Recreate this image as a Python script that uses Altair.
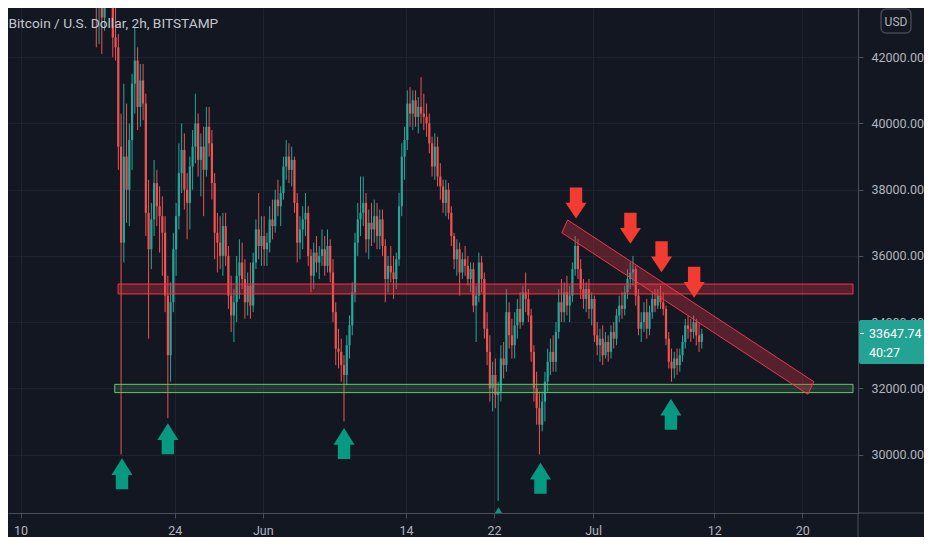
import altair as alt
import pandas as pd

# ---------------- data ----------------
# 6-hour candles, first candle opens 2021-05-16 18:00, one row per day below
CANDLE_START = "2021-05-16T18:00:00Z"
first_open = 44800
closes = [43900,
    44600, 43200, 44800, 45100,  44200, 42600, 42300, 39300,  36400, 39000, 38000, 39500,
    41200, 41900, 40500, 41300,  40600, 37300, 36200, 37100,  38200, 37500, 37200, 36700,
    34800, 33000, 34600, 36200,  37200, 38500, 39200, 38000,  37600, 38700, 39300, 40000,
    38900, 39300, 38600, 39900,  39400, 38200, 36700, 36400,  36000, 36900, 36000, 34800,
    34200, 34600, 35400, 35800,  35300, 34600, 35100, 34500,  35800, 36800, 36300, 36600,
    36200, 36400, 37100, 36900,  37700, 37500, 37900, 38700,  39000, 38600, 38900, 37600,
    36400, 36800, 37100, 37300,  36000, 35400, 36100, 35800,  36000, 36200, 35700, 36300,
    35500, 34300, 33200, 33100,  32700, 32400, 33300, 33900,  34900, 36400, 37100, 37300,
    37600, 36500, 37000, 36800,  37200, 36600, 37100, 36300,  35300, 35700, 35500, 35300,
    35900, 37500, 39000, 39500,  40600, 40300, 40700, 40200,  40500, 40300, 40200, 40000,
    39400, 38700, 39300, 38400,  38100, 37600, 38000, 37300,  36600, 35900, 36200, 35500,
    35900, 35700, 35300, 35600,  34500, 34800, 35800, 35300,  33800, 33100, 32000, 32400,
    31800, 31900, 32900, 32700,  34300, 33600, 33300, 33900,  34400, 34000, 34900, 34700,
    34200, 33100, 32000, 31400,  30900, 31600, 32200, 32800,  33100, 32800, 33700, 34600,
    34300, 34900, 34500, 34800,  35600, 36300, 35600, 35000,  34700, 35000, 34400, 34700,
    33600, 33300, 33500, 33000,  33400, 33100, 33700, 33500,  34200, 34500, 34400, 34900,
    35300, 35500, 35600, 34800,  33800, 34000, 34300, 33800,  34300, 34700, 34500, 34800,
    34600, 34400, 33500, 32800,  32600, 32900, 32700, 33000,  33400, 33900, 33800, 33700,
    34000, 33600, 33400, 33647.74]
highs = [45600,
    45400, 45300, 45000, 45800,  45600, 44800, 43500, 42700,  40300, 41200, 40600, 40000,
    41500, 42900, 42300, 41800,  41800, 40900, 38300, 37600,  38900, 38600, 38100, 37800,
    37200, 35400, 35200, 36700,  37600, 39400, 40000, 39700,  38500, 39000, 39800, 40900,
    40300, 39700, 39900, 40500,  40500, 39800, 38500, 37300,  37200, 37300, 37300, 36300,
    35400, 35000, 36000, 36500,  36400, 35900, 35500, 35800,  36100, 37100, 37900, 37200,
    37200, 36700, 37500, 37700,  38000, 38300, 38100, 39000,  39500, 39400, 39300, 39000,
    37900, 37200, 37500, 37900,  37500, 36200, 36400, 36600,  36300, 36800, 36600, 36800,
    36500, 35900, 34600, 33800,  33500, 33000, 33600, 34200,  35200, 36700, 37600, 38400,
    38400, 37900, 37400, 37600,  37700, 37600, 37400, 37400,  36500, 36000, 36300, 36000,
    36100, 37900, 39400, 39900,  41000, 41100, 41000, 41000,  40800, 41400, 40900, 40600,
    40300, 39600, 39700, 39600,  38800, 38300, 38300, 38200,  37500, 36700, 36500, 36400,
    36100, 36300, 36000, 35800,  35800, 35100, 36100, 36000,  35500, 34300, 33600, 32800,
    32900, 32200, 33300, 33400,  35000, 34600, 34100, 34300,  34700, 34900, 35100, 35500,
    35000, 34400, 33300, 32500,  31900, 31900, 32500, 33200,  33500, 33600, 34000, 35000,
    35300, 35200, 35400, 35100,  35800, 36600, 36500, 35900,  35300, 35200, 35300, 34900,
    34800, 34000, 33800, 33900,  33700, 33600, 33900, 34000,  34400, 34800, 34900, 35100,
    35600, 35800, 36000, 35700,  35000, 34300, 34600, 34700,  34500, 34900, 35000, 35000,
    35100, 34900, 34500, 33700,  33200, 33100, 33200, 33200,  33600, 34100, 34200, 34100,
    34200, 34100, 34000, 33800]
lows = [42300,
    42400, 42100, 42800, 43900,  43600, 42000, 41900, 38600,  30000, 35800, 37000, 36900,
    38600, 40300, 39800, 39900,  40100, 36600, 33500, 35600,  36600, 36900, 36100, 35400,
    34300, 31100, 32200, 34300,  35400, 36800, 37900, 37400,  36500, 36800, 38000, 38800,
    38400, 37800, 37200, 38400,  39000, 37700, 35900, 35500,  35600, 35400, 35700, 34400,
    33700, 33400, 34000, 34700,  35000, 34100, 34200, 34100,  34300, 35600, 35900, 35700,
    35700, 35700, 36100, 36500,  36700, 37200, 36900, 37700,  38300, 38200, 38100, 37300,
    35800, 35900, 36200, 36600,  35700, 34900, 35000, 35500,  35300, 35700, 35400, 35500,
    35200, 34000, 32700, 32600,  32200, 31000, 32100, 32900,  33600, 34600, 36000, 36600,
    36900, 36100, 35900, 36300,  36400, 36200, 36200, 36000,  34600, 34900, 35200, 34700,
    35000, 35700, 37200, 38300,  39200, 39900, 39800, 39900,  39700, 40000, 39800, 39600,
    39100, 38400, 38300, 38100,  37700, 37300, 37200, 37100,  36300, 35600, 35400, 34800,
    35300, 35400, 35100, 34900,  34300, 33400, 34600, 34900,  33500, 32700, 31600, 31300,
    31400, 28600, 31600, 32300,  32500, 33200, 32900, 32900,  33500, 33800, 33900, 34300,
    34000, 32800, 31600, 30900,  30000, 30700, 31000, 31900,  32400, 32500, 32500, 33500,
    34000, 34000, 34200, 34000,  34600, 35400, 35300, 34700,  34400, 34300, 34100, 33900,
    33400, 33000, 32800, 32700,  32900, 32800, 32900, 33200,  33300, 34000, 34100, 34200,
    34700, 35000, 35100, 34500,  33600, 33400, 33700, 33500,  33600, 34100, 34300, 34400,
    34400, 34200, 33300, 32600,  32200, 32300, 32400, 32500,  32800, 33200, 33500, 33400,
    33500, 33300, 33100, 33200]

# horizontal zones drawn on the chart
zone_start = ["2021-05-18T20:25:00Z", "2021-05-18T13:15:00Z"]   # resistance, support
zone_end = ["2021-07-24T14:38:00Z", "2021-07-24T14:38:00Z"]
zone_top = [35150, 32120]
zone_bottom = [34850, 31870]

# descending channel (parallelogram), as top / bottom edge along time
channel_t = ["2021-06-28T03:50:00Z", "2021-06-28T16:34:00Z",
             "2021-07-20T12:14:00Z", "2021-07-21T01:12:00Z"]
channel_top = [36701, 37085, 32317, 32199]
channel_bottom = [36701, 36585, 31819, 32199]

# arrows
up_t = ["2021-05-19T05:02:00Z", "2021-05-23T09:00:00Z", "2021-06-08T09:07:00Z",
        "2021-06-22T09:50:00Z", "2021-06-26T05:17:00Z", "2021-07-08T01:41:00Z"]
up_p = [29417, 30477, 30332, 27937, 29281, 31218]
down_t = ["2021-06-29T10:48:00Z", "2021-07-04T09:21:00Z",
          "2021-07-07T05:17:00Z", "2021-07-10T04:19:00Z"]
down_p = [37598, 36834, 35976, 35202]

# axes
x_ticks = ["2021-05-10", "2021-05-24", "2021-06-01", "2021-06-14",
           "2021-06-22", "2021-07-01", "2021-07-12", "2021-07-20"]
y_ticks = [30000, 32000, 34000, 36000, 38000, 40000, 42000]
x_domain = ["2021-05-09T07:25:00Z", "2021-07-24T14:38:00Z"]
y_domain = [28233, 43489]
last_price = "33647.74"
countdown = "40:27"
title_text = "Bitcoin / U.S. Dollar, 2h, BITSTAMP"

# ---------------- build tables ----------------
def ms(s):
    ts = pd.Timestamp(s)
    if ts.tzinfo is None:
        ts = ts.tz_localize("UTC")
    return int(ts.value // 10**6)

n = len(closes)
opens = [first_open] + closes[:-1]
t0 = pd.Timestamp(CANDLE_START)
times = [(t0 + pd.Timedelta(hours=6 * i + 3)).strftime("%Y-%m-%dT%H:%M:%SZ") for i in range(n)]
candles = pd.DataFrame({"t": times, "open": opens, "high": highs, "low": lows, "close": closes})
candles["dir"] = ["up" if c >= o else "down" for o, c in zip(opens, closes)]

res_df = pd.DataFrame({"x0": zone_start[:1], "x1": zone_end[:1], "top": zone_top[:1], "bottom": zone_bottom[:1]})
sup_df = pd.DataFrame({"x0": zone_start[1:], "x1": zone_end[1:], "top": zone_top[1:], "bottom": zone_bottom[1:]})
ch_df = pd.DataFrame({"t": channel_t, "top": channel_top, "bottom": channel_bottom})
up_df = pd.DataFrame({"t": up_t, "p": up_p})
down_df = pd.DataFrame({"t": down_t, "p": down_p})
one = pd.DataFrame({"k": [0]})

# ---------------- styling ----------------
BG = "#131722"
GRID = "#1f2331"
AXIS = "#4a4e59"
LABEL = "#b2b5be"
UP = "#26a69a"
DOWN = "#ef5350"
RED = "#f23645"
FONT = "Roboto, Liberation Sans, sans-serif"

xscale = alt.Scale(type="utc", domain=[ms(d) for d in x_domain])
yscale = alt.Scale(domain=y_domain, zero=False, nice=False)

xaxis = alt.Axis(values=[ms(d) for d in x_ticks], title=None,
                 labelExpr="utcFormat(datum.value, '%d') == '01' ? utcFormat(datum.value, '%b') : utcFormat(datum.value, '%d')",
                 grid=True, gridColor=GRID, gridWidth=1,
                 domainColor=AXIS, domainWidth=1, tickColor=AXIS, tickSize=5, tickWidth=1,
                 labelColor=LABEL, labelFont=FONT, labelFontSize=12.5, labelPadding=12,
                 labelBaseline="middle", labelFlush=False, labelOverlap=False)
yaxis = alt.Axis(orient="right", values=y_ticks, format=".2f", title=None,
                 grid=True, gridColor=GRID, gridWidth=1,
                 domainColor=AXIS, domainWidth=1, tickColor=AXIS, tickSize=5, tickWidth=1,
                 labelColor=LABEL, labelFont=FONT, labelFontSize=12.5, labelPadding=8,
                 labelFlush=False, labelOverlap=False)

X = lambda f: alt.X(f, scale=xscale, axis=xaxis)
Y = lambda f: alt.Y(f, scale=yscale, axis=yaxis)

color = alt.Color("dir:N", scale=alt.Scale(domain=["up", "down"], range=[UP, DOWN]), legend=None)

wicks = alt.Chart(candles).mark_rule(clip=True, strokeWidth=1).encode(
    x=X("t:T"), y=Y("low:Q"), y2="high:Q", color=color)
bodies = alt.Chart(candles).mark_bar(clip=True, size=2.2).encode(
    x=X("t:T"), y=Y("open:Q"), y2="close:Q", color=color)

res_zone = alt.Chart(res_df).mark_rect(clip=True, fill=RED, fillOpacity=0.3, stroke=RED, strokeWidth=1).encode(
    x=X("x0:T"), x2="x1:T", y=Y("top:Q"), y2="bottom:Q")
sup_zone = alt.Chart(sup_df).mark_rect(clip=True, fill="#4caf50", fillOpacity=0.22, stroke="#6cc070", strokeWidth=1).encode(
    x=X("x0:T"), x2="x1:T", y=Y("top:Q"), y2="bottom:Q")
channel = alt.Chart(ch_df).mark_area(clip=True, fill=RED, fillOpacity=0.3, stroke=RED, strokeWidth=1,
                                     interpolate="linear").encode(
    x=X("t:T"), y=Y("top:Q"), y2="bottom:Q")

UP_PATH = "M0,-1L0.68,0.08L0.4,0.08L0.4,1L-0.4,1L-0.4,0.08L-0.68,0.08Z"
DOWN_PATH = "M0,1L0.68,-0.02L0.4,-0.02L0.4,-1L-0.4,-1L-0.4,-0.02L-0.68,-0.02Z"
up_arrows = alt.Chart(up_df).mark_point(clip=True, shape=UP_PATH, filled=True, size=961,
                                        color="#089981", opacity=1, strokeWidth=0).encode(
    x=X("t:T"), y=Y("p:Q"))
down_arrows = alt.Chart(down_df).mark_point(clip=True, shape=DOWN_PATH, filled=True, size=961,
                                            color="#f23c32", opacity=1, strokeWidth=0).encode(
    x=X("t:T"), y=Y("p:Q"))

# ---------------- furniture (price scale widgets, title) ----------------
sep_v = alt.Chart(one).mark_rule(color=AXIS, strokeWidth=1).encode(
    x=alt.value(850), y=alt.value(505), y2=alt.value(529))
sep_h = alt.Chart(one).mark_rule(color=AXIS, strokeWidth=1).encode(
    x=alt.value(850), x2=alt.value(916), y=alt.value(505))
price_box = alt.Chart(one).mark_rect(color="#22a393", cornerRadius=2).encode(
    x=alt.value(851), x2=alt.value(921), y=alt.value(312), y2=alt.value(356))
price_tick = alt.Chart(one).mark_rule(color="white", strokeWidth=1).encode(
    x=alt.value(852), x2=alt.value(856), y=alt.value(325.5))
price_txt = alt.Chart(one).mark_text(text=last_price, align="left", baseline="middle",
                                     font=FONT, fontSize=12.5, color="white").encode(
    x=alt.value(861), y=alt.value(325.5))
count_txt = alt.Chart(one).mark_text(text=countdown, align="left", baseline="middle",
                                     font=FONT, fontSize=12.5, color="white").encode(
    x=alt.value(861), y=alt.value(344.5))
usd_box = alt.Chart(one).mark_rect(fill=BG, stroke="#434651", strokeWidth=1.5, cornerRadius=5).encode(
    x=alt.value(873), x2=alt.value(903), y=alt.value(1), y2=alt.value(25))
usd_txt = alt.Chart(one).mark_text(text="USD", align="center", baseline="middle",
                                   font=FONT, fontSize=12, color=LABEL).encode(
    x=alt.value(888), y=alt.value(13.5))
title = alt.Chart(one).mark_text(text=title_text, align="left", baseline="alphabetic",
                                 font=FONT, fontSize=13.7, color="#c3c6ce").encode(
    x=alt.value(0.5), y=alt.value(20))

chart = alt.layer(
    wicks, bodies, res_zone, sup_zone, channel, up_arrows, down_arrows,
    sep_v, sep_h, price_box, price_tick, price_txt, count_txt, usd_box, usd_txt, title,
).properties(
    width=850, height=505, background=BG,
    padding={"left": 0, "top": 0, "right": 66, "bottom": 24},
    autosize=alt.AutoSizeParams(type="none"),
).configure_view(strokeWidth=0)

chart.save("out.html", embed_options={"renderer": "svg", "actions": False})
